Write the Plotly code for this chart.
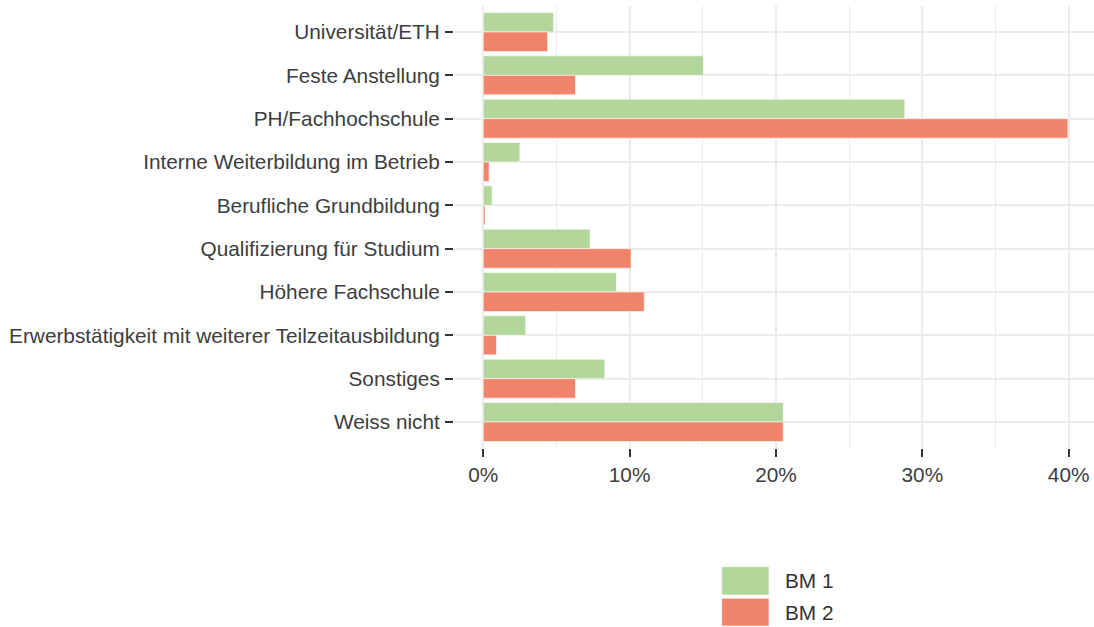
import plotly.graph_objects as go

categories = [
    "Universität/ETH",
    "Feste Anstellung",
    "PH/Fachhochschule",
    "Interne Weiterbildung im Betrieb",
    "Berufliche Grundbildung",
    "Qualifizierung für Studium",
    "Höhere Fachschule",
    "Erwerbstätigkeit mit weiterer Teilzeitausbildung",
    "Sonstiges",
    "Weiss nicht",
]
series_names = ["BM 1", "BM 2"]
bm1 = [4.8, 15.05, 28.8, 2.5, 0.6, 7.3, 9.1, 2.9, 8.3, 20.5]
bm2 = [4.4, 6.3, 39.95, 0.4, 0.12, 10.1, 11.0, 0.9, 6.3, 20.5]
colors = ["#B3D69B", "#F0846A"]
x_ticks = [0, 10, 20, 30, 40]
x_ticktext = ["0%", "10%", "20%", "30%", "40%"]

FONT = "Liberation Sans Narrow, Arial Narrow, Liberation Sans, Arial, sans-serif"
FS = 20.8

fig = go.Figure()
for name, vals, col in zip(series_names, [bm1, bm2], colors):
    fig.add_trace(go.Bar(
        y=categories, x=vals, name=name, orientation="h",
        marker=dict(color=col, line=dict(color="white", width=0.6)),
        showlegend=False,
    ))

fig.update_layout(
    width=1094, height=627,
    margin=dict(l=454, r=0, t=6, b=179, autoexpand=False),
    paper_bgcolor="white", plot_bgcolor="white",
    barmode="group", bargap=0.1, bargroupgap=0,
    font=dict(family=FONT, size=FS, color="#3D3D3D"),
)
fig.update_xaxes(
    range=[-2, 41.73], tickmode="array", tickvals=x_ticks, ticktext=x_ticktext,
    showgrid=True, gridcolor="#EBEBEB", gridwidth=1.8, zeroline=False,
    ticks="outside", ticklen=8, tickwidth=2, tickcolor="#333333",
    tickfont=dict(family=FONT, size=FS, color="#3D3D3D"),
    minor=dict(tickvals=[5, 15, 25, 35], showgrid=True, gridcolor="#EBEBEB", gridwidth=1),
    showline=False, automargin=False, ticklabelstandoff=0,
)
fig.update_yaxes(
    type="category", categoryorder="array", categoryarray=categories,
    range=[9.6, -0.6],
    showgrid=True, gridcolor="#EBEBEB", gridwidth=1.8, zeroline=False,
    ticks="outside", ticklen=8, tickwidth=2, tickcolor="#333333",
    tickfont=dict(family=FONT, size=FS, color="#3D3D3D"),
    showline=False, automargin=False, ticklabelstandoff=1,
)

# legend drawn as keys + labels below the plot
plot_l, plot_w, plot_b, plot_h = 454, 640, 448, 442
def px_x(p):
    return (p - plot_l) / plot_w
def px_y(p):
    return (plot_b - p) / plot_h

key_boxes = [(566.7, 595.0), (598.3, 626.0)]
for (top, bot), col, name in zip(key_boxes, colors, series_names):
    fig.add_shape(type="rect", xref="paper", yref="paper",
                  x0=px_x(721.7), x1=px_x(769), y0=px_y(bot), y1=px_y(top),
                  fillcolor=col, line=dict(color="white", width=0.6))
    fig.add_annotation(xref="paper", yref="paper", x=px_x(783), y=px_y((top + bot) / 2),
                       text=name, showarrow=False, xanchor="left", yanchor="middle",
                       font=dict(family=FONT, size=FS, color="#333333"))

fig.write_html("out.html", config={"displayModeBar": False},
               post_script="document.body.style.margin='0';")
